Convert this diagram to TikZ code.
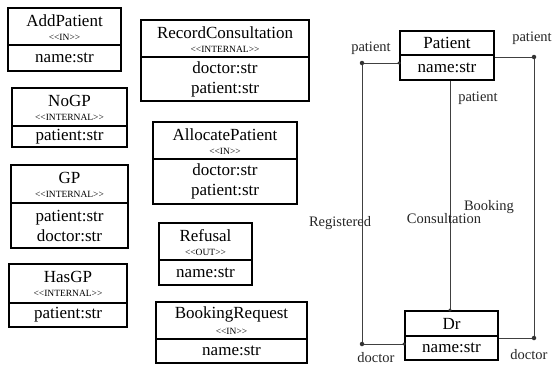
\documentclass[tikz,border=0pt]{standalone}
\usepackage{fontspec}
\setmainfont{Liberation Serif}
\usetikzlibrary{fit}

\tikzset{
  classframe/.style={draw=black, line width=1.8pt},
  classtitle/.style={font=\fontsize{17}{19}\selectfont, inner sep=0pt},
  stereotype/.style={font=\fontsize{9.5}{11}\selectfont, inner sep=0pt},
  attrs/.style={font=\fontsize{17}{20}\selectfont, align=center, inner sep=0pt},
  assoc/.style={draw=black!75, line width=0.9pt},
  joint/.style={circle, fill=black!80, inner sep=0pt, minimum size=4.5pt},
  endjoint/.style={circle, fill=black!80, inner sep=0pt, minimum size=3.5pt},
  rolelabel/.style={font=\fontsize{14.5}{16}\selectfont, inner sep=0pt, text=black!85},
}

% stereotype text with plain angle brackets (no guillemet ligature)
\newcommand{\stereo}[1]{<{}<#1>{}>}

% \classbox{name}{left}{top}{right}{divider}{bottom}{title}{stereotype}{attributes}
\newcommand{\classbox}[9]{%
  \node[classframe, fit={(#2,#3) (#4,#6)}, inner sep=0pt] (#1) {};
  \draw[classframe] (#2,#5) -- (#4,#5);
  \node[classtitle] (#1-title) at ({(#2+#4)/2},{#3+12.5}) {#7};
  \node[stereotype] (#1-st) at ({(#2+#4)/2},{#3+29}) {\stereo{#8}};
  \node[attrs] (#1-attr) at ({(#2+#4)/2},{(#5+#6)/2}) {#9};
}

% \entitybox{name}{left}{top}{right}{divider}{bottom}{title}{attributes}
\newcommand{\entitybox}[8]{%
  \node[classframe, fit={(#2,#3) (#4,#6)}, inner sep=0pt] (#1) {};
  \draw[classframe] (#2,#5) -- (#4,#5);
  \node[classtitle] (#1-title) at ({(#2+#4)/2},{(#3+#5)/2}) {#7};
  \node[attrs] (#1-attr) at ({(#2+#4)/2},{(#5+#6)/2}) {#8};
}

\begin{document}
\begin{tikzpicture}[x=1pt, y=-1pt]
  \useasboundingbox[fill=white] (0,0) rectangle (553,365);

  % left column
  \classbox{addpatient}{8}{8}{121}{45}{71}{AddPatient}{IN}{name:str}
  \classbox{nogp}{12}{88}{127}{126}{147}{NoGP}{INTERNAL}{patient:str}
  \classbox{gp}{11}{165}{128}{203}{248}{GP}{INTERNAL}{patient:str\\doctor:str}
  \classbox{hasgp}{9}{264}{127}{303}{327}{HasGP}{INTERNAL}{patient:str}

  % middle column
  \classbox{recordconsultation}{141}{20}{309}{57}{101}{RecordConsultation}{INTERNAL}{doctor:str\\patient:str}
  \classbox{allocatepatient}{153}{122}{297}{159}{204}{AllocatePatient}{IN}{doctor:str\\patient:str}
  \classbox{refusal}{159}{223}{252}{260}{285}{Refusal}{OUT}{name:str}
  \classbox{bookingrequest}{156}{302}{307}{339}{363}{BookingRequest}{IN}{name:str}

  % entities
  \entitybox{patient}{400}{31}{494}{55}{80}{Patient}{name:str}
  \entitybox{dr}{405}{311}{498}{336}{360}{Dr}{name:str}

  % association end points
  \coordinate (regtop) at (362,63);
  \coordinate (regbot) at (362,344);
  \coordinate (bookmid) at (450,0);
  \coordinate (booktop) at (534,57);
  \coordinate (bookbot) at (534,338);

  % Registered
  \draw[assoc] (patient.west |- regtop) -- (regtop) -- (regbot) -- (dr.west |- regbot);
  \node[joint] at (regtop) {};
  \node[joint] at (regbot) {};
  \node[endjoint] at (patient.west |- regtop) {};
  \node[endjoint] at (dr.west |- regbot) {};

  % Consultation
  \draw[assoc] (patient.south -| bookmid) -- (dr.north -| bookmid);
  \node[endjoint] at (dr.north -| bookmid) {};

  % Booking
  \draw[assoc] (patient.east |- booktop) -- (booktop) -- (bookbot) -- (dr.east |- bookbot);
  \node[joint] at (booktop) {};
  \node[joint] at (bookbot) {};

  % role and association labels
  \node[rolelabel] (l1) at (371,48) {patient};
  \node[rolelabel] (l2) at (532,38) {patient};
  \node[rolelabel] (l3) at (478,98) {patient};
  \node[rolelabel] (l4) at (340,223) {Registered};
  \node[rolelabel] (l5) at (444,219) {Consultation};
  \node[rolelabel] (l6) at (489,207) {Booking};
  \node[rolelabel] (l7) at (376,357.5) {doctor};
  \node[rolelabel] (l8) at (529,355) {doctor};
\end{tikzpicture}
\end{document}
